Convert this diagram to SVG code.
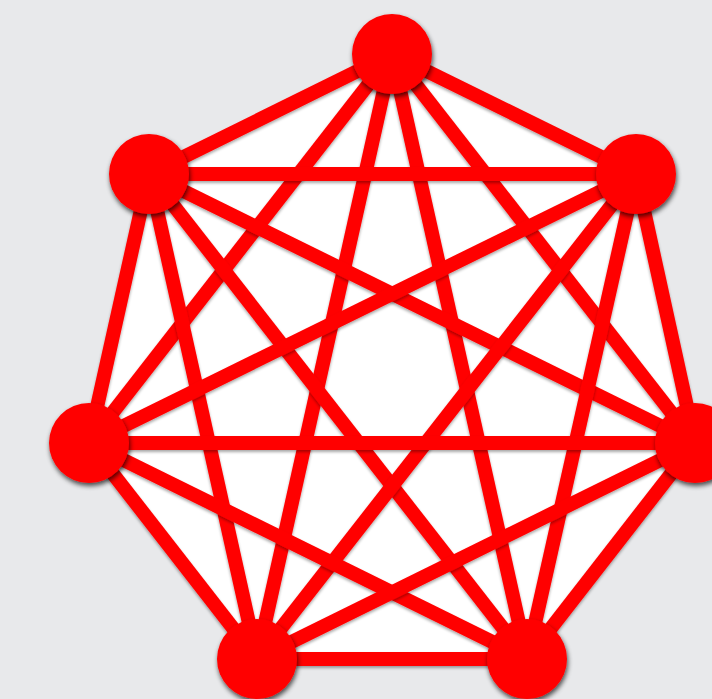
<svg xmlns="http://www.w3.org/2000/svg" width="712" height="699" viewBox="0 0 712 699">
<defs>
<filter id="sh" x="-20%" y="-20%" width="140%" height="150%">
<feGaussianBlur in="SourceAlpha" stdDeviation="2.5"/>
<feOffset dx="1" dy="3" result="b"/>
<feComponentTransfer><feFuncA type="linear" slope="0.7"/></feComponentTransfer>
<feMerge><feMergeNode/><feMergeNode in="SourceGraphic"/></feMerge>
</filter>
<filter id="lsh" filterUnits="userSpaceOnUse" x="0" y="0" width="712" height="699">
<feGaussianBlur in="SourceAlpha" stdDeviation="1.5"/>
<feOffset dx="0" dy="2" result="b"/>
<feComponentTransfer><feFuncA type="linear" slope="0.35"/></feComponentTransfer>
<feMerge><feMergeNode/><feMergeNode in="SourceGraphic"/></feMerge>
</filter>
</defs>
<style>
.e{stroke:#ff0000;stroke-width:14;fill:none;filter:url(#lsh)}
.n{fill:#ff0000;filter:url(#sh)}
</style>
<rect width="712" height="699" fill="#e8e9eb"/>
<polygon points="392,54 636,174 695,443 527,659 257,659 89,443 149,174" fill="#ffffff"/>
<g id="edges">
<line class="e" x1="392" y1="54" x2="149" y2="174"/>
<line class="e" x1="392" y1="54" x2="636" y2="174"/>
<line class="e" x1="392" y1="54" x2="89" y2="443"/>
<line class="e" x1="392" y1="54" x2="695" y2="443"/>
<line class="e" x1="392" y1="54" x2="257" y2="659"/>
<line class="e" x1="392" y1="54" x2="527" y2="659"/>
<line class="e" x1="149" y1="174" x2="636" y2="174"/>
<line class="e" x1="149" y1="174" x2="89" y2="443"/>
<line class="e" x1="149" y1="174" x2="695" y2="443"/>
<line class="e" x1="149" y1="174" x2="257" y2="659"/>
<line class="e" x1="149" y1="174" x2="527" y2="659"/>
<line class="e" x1="636" y1="174" x2="89" y2="443"/>
<line class="e" x1="636" y1="174" x2="695" y2="443"/>
<line class="e" x1="636" y1="174" x2="257" y2="659"/>
<line class="e" x1="636" y1="174" x2="527" y2="659"/>
<line class="e" x1="89" y1="443" x2="695" y2="443"/>
<line class="e" x1="89" y1="443" x2="257" y2="659"/>
<line class="e" x1="89" y1="443" x2="527" y2="659"/>
<line class="e" x1="695" y1="443" x2="257" y2="659"/>
<line class="e" x1="695" y1="443" x2="527" y2="659"/>
<line class="e" x1="257" y1="659" x2="527" y2="659"/>
</g>
<g id="n1"><circle class="n" cx="392" cy="54" r="40"/></g>
<g id="n2"><circle class="n" cx="149" cy="174" r="40"/></g>
<g id="n3"><circle class="n" cx="636" cy="174" r="40"/></g>
<g id="n4"><circle class="n" cx="89" cy="443" r="40"/></g>
<g id="n5"><circle class="n" cx="695" cy="443" r="40"/></g>
<g id="n6"><circle class="n" cx="257" cy="659" r="40"/></g>
<g id="n7"><circle class="n" cx="527" cy="659" r="40"/></g>
</svg>
